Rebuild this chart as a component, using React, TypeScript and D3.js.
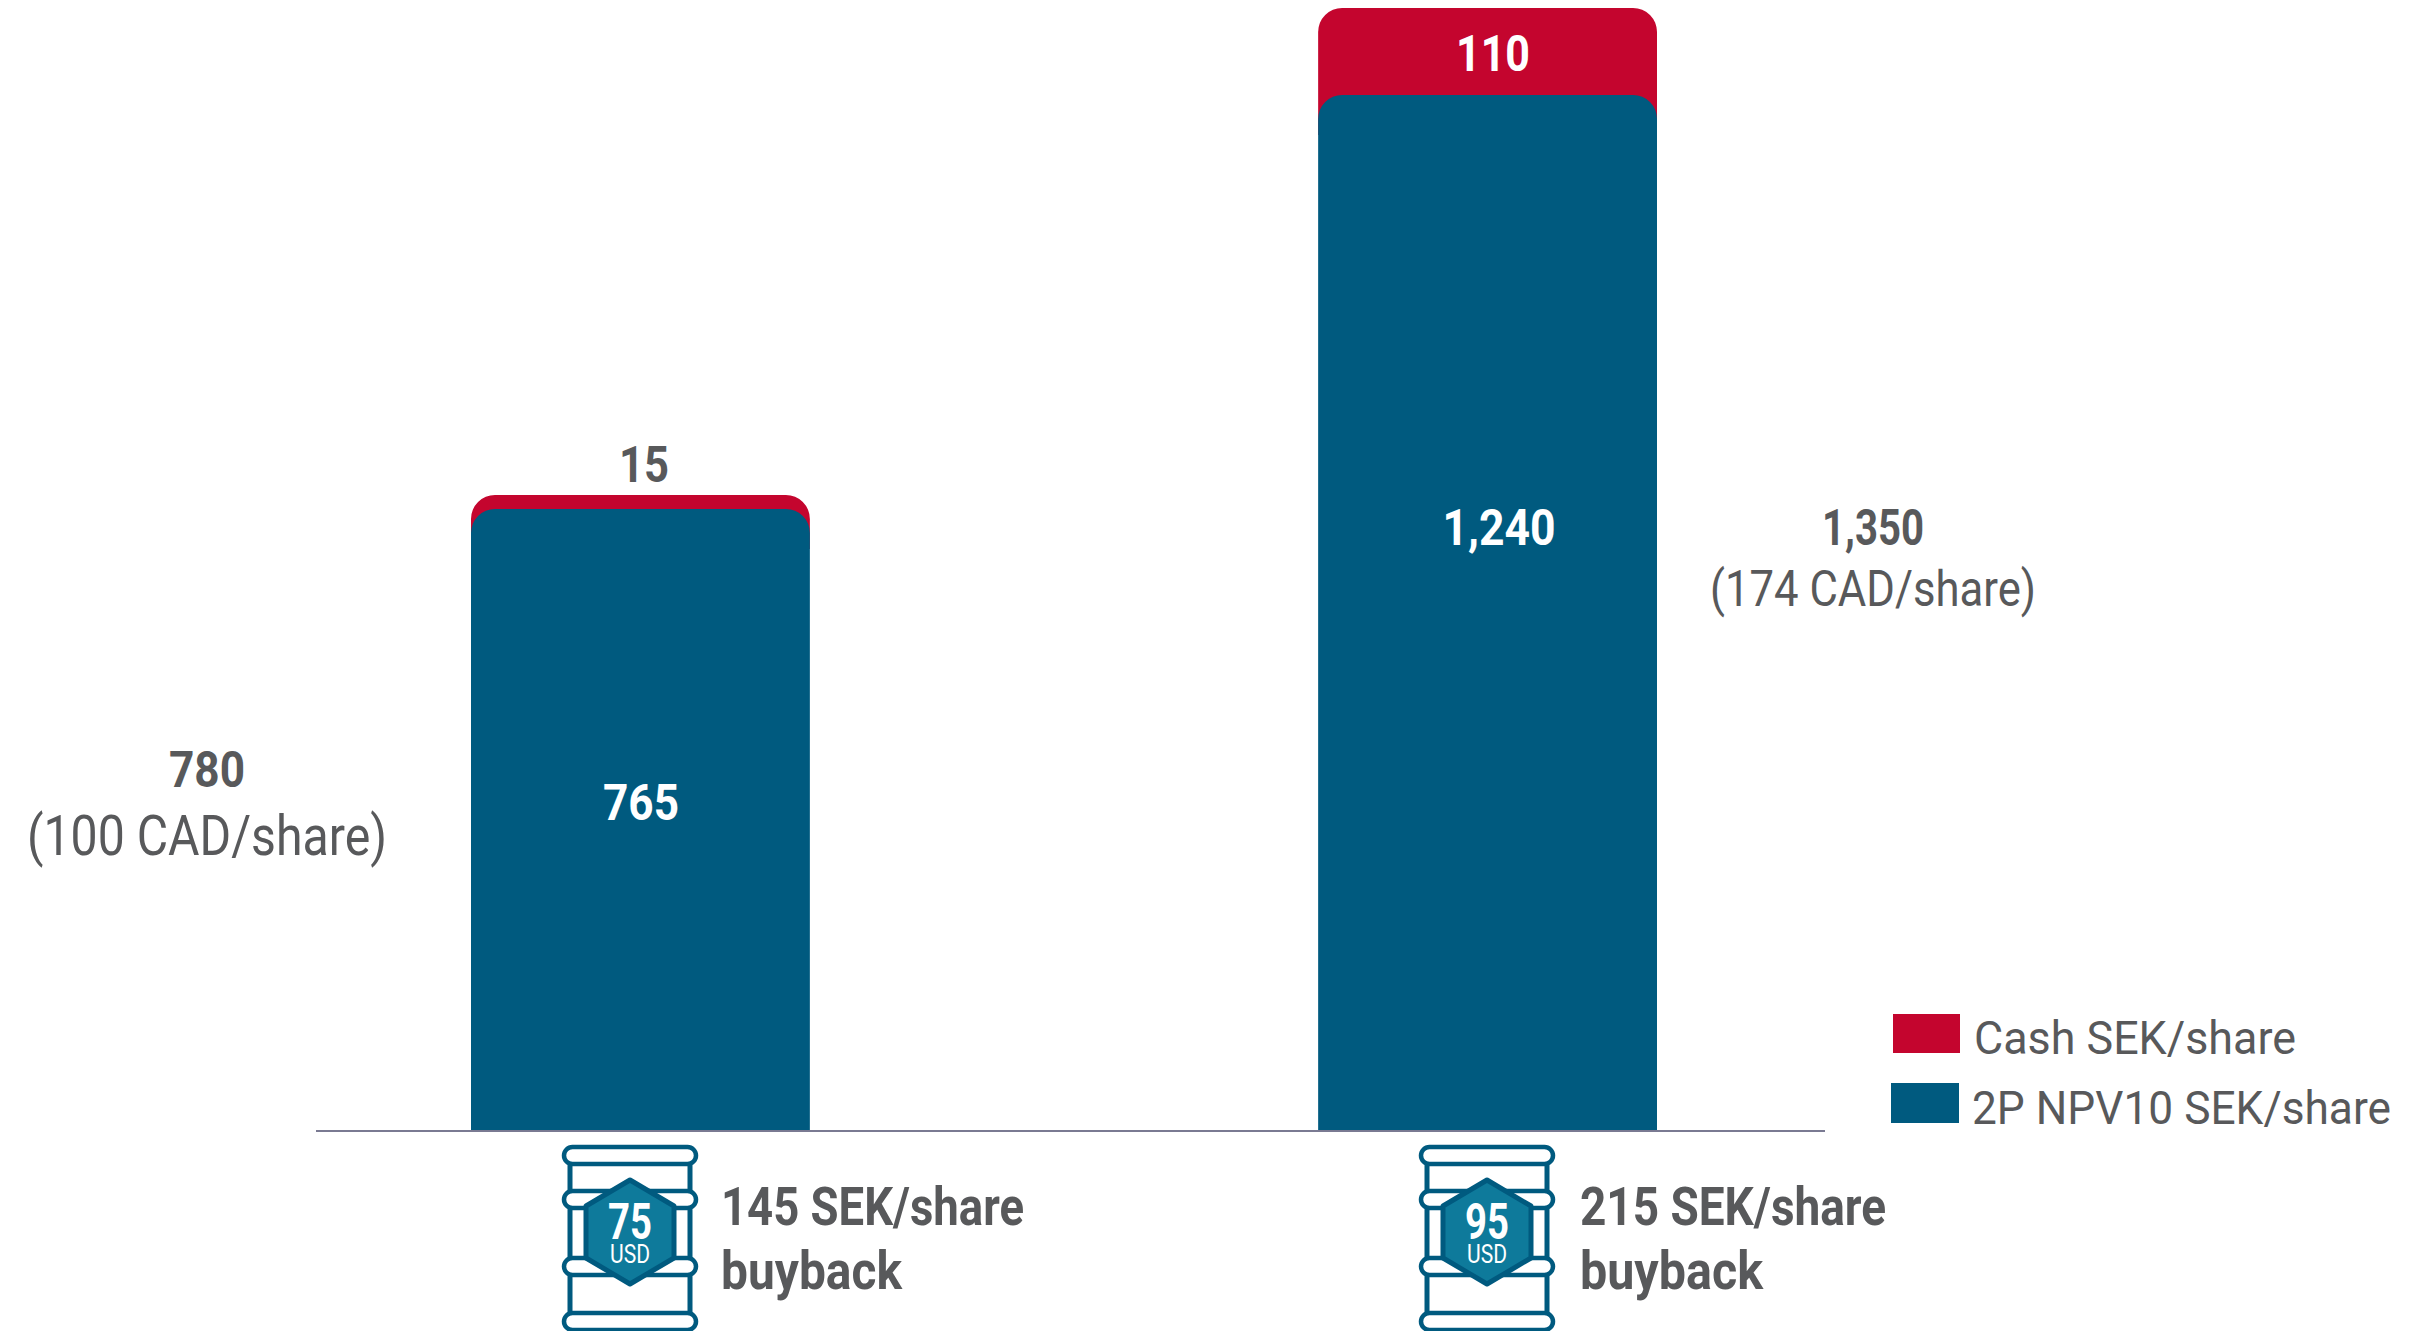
import React from "react";
import * as d3 from "d3";

const categories = ["75", "95"];
const npvValues = [765, 1240];
const cashValues = [15, 110];
const npvLabels = ["765", "1,240"];
const cashLabels = ["15", "110"];
const totalLabels = ["780", "1,350"];
const cadLabels = ["(100 CAD/share)", "(174 CAD/share)"];
const buybackLabels = ["145 SEK/share", "215 SEK/share"];
const seriesNames = ["Cash SEK/share", "2P NPV10 SEK/share"];

const BLUE = "#005a7f";
const RED = "#c4052e";
const TEAL = "#0e7a9b";
const GREY = "#58595b";
const FONT = "Roboto, sans-serif";

// The source chart is not drawn strictly to scale, so the value scale is piecewise.
const y = d3.scaleLinear().domain([0, 765, 780, 1240, 1350]).range([1130, 509, 495, 95, 8]);
const x = d3.scaleBand<string>().domain(categories).range([471, 1657]).paddingInner(0.6).paddingOuter(0);

const roundedTop = (x0: number, y0: number, w: number, bottom: number, r: number) => {
  const p = d3.path();
  p.moveTo(x0, bottom);
  p.lineTo(x0, y0 + r);
  p.arcTo(x0, y0, x0 + r, y0, r);
  p.lineTo(x0 + w - r, y0);
  p.arcTo(x0 + w, y0, x0 + w, y0 + r, r);
  p.lineTo(x0 + w, bottom);
  p.closePath();
  return p.toString();
};

const hexagon = (cx: number, cy: number, hw: number, hh: number) =>
  d3.line()([
    [cx, cy - hh],
    [cx + hw, cy - hh / 2],
    [cx + hw, cy + hh / 2],
    [cx, cy + hh],
    [cx - hw, cy + hh / 2],
    [cx - hw, cy - hh / 2],
  ]) + "Z";

type TProps = { x: number; y: number; w: number; size: number; bold?: boolean; fill?: string; anchor?: string; children: string };
function T({ x: tx, y: ty, w, size, bold, fill = GREY, anchor = "middle", children }: TProps) {
  return (
    <text x={tx} y={ty} textAnchor={anchor as any} fontSize={size} fontWeight={bold ? 700 : 400} fill={fill} fontFamily={FONT} textLength={w} lengthAdjust="spacingAndGlyphs">
      {children}
    </text>
  );
}

function Barrel({ cx, label }: { cx: number; label: string }) {
  const hoops = [1147, 1191, 1258, 1313];
  return (
    <g>
      {[-60, 60].map((d) => (
        <line key={d} x1={cx + d} x2={cx + d} y1={1160} y2={1316} stroke={BLUE} strokeWidth={5} />
      ))}
      {hoops.map((h) => (
        <rect key={h} x={cx - 66} y={h} width={132} height={17} rx={8.5} fill="#fff" stroke={BLUE} strokeWidth={4.5} />
      ))}
      <path d={hexagon(cx, 1232, 44, 52)} fill={TEAL} stroke={BLUE} strokeWidth={5} strokeLinejoin="round" />
      <T x={cx} y={1239} w={44} size={50} bold fill="#fff">{label}</T>
      <T x={cx} y={1263} w={40} size={25} fill="#fff">USD</T>
    </g>
  );
}

export default function App() {
  const bw = x.bandwidth();
  const barrelCx = [630, 1487];
  const buyX = [721, 1580];
  const buyW = [303, 306];
  const buyW2 = [181, 183];
  const cash = [{ x: 644, y: 482, w: 50 }, { x: 1493, y: 71, w: 74 }];
  const npv = [{ x: 641, y: 820, w: 76 }, { x: 1499, y: 545, w: 113 }];
  const total = [
    { x: 207, y1: 787, y2: 855, w1: 76, w2: 360, size: 55 },
    { x: 1873, y1: 545, y2: 606, w1: 102, w2: 326, size: 50 },
  ];
  return (
    <svg width={2415} height={1331} viewBox="0 0 2415 1331" style={{ position: "absolute", left: 0, top: 0, display: "block" }}>
      <rect width={2415} height={1331} fill="#fff" />
      {categories.map((c, i) => {
        const x0 = x(c)!;
        const cashTop = y(npvValues[i] + cashValues[i]);
        const npvTop = y(npvValues[i]);
        return (
          <g key={c}>
            <path d={roundedTop(x0, cashTop, bw, npvTop + 40, 24)} fill={RED} />
            <path d={roundedTop(x0, npvTop, bw, y(0), 24)} fill={BLUE} />
            <T x={cash[i].x} y={cash[i].y} w={cash[i].w} size={50} bold fill={i === 0 ? GREY : "#fff"}>{cashLabels[i]}</T>
            <T x={npv[i].x} y={npv[i].y} w={npv[i].w} size={50} bold fill="#fff">{npvLabels[i]}</T>
            <T x={total[i].x} y={total[i].y1} w={total[i].w1} size={50} bold>{totalLabels[i]}</T>
            <T x={total[i].x} y={total[i].y2} w={total[i].w2} size={total[i].size}>{cadLabels[i]}</T>
            <Barrel cx={barrelCx[i]} label={c} />
            <T x={buyX[i]} y={1225} w={buyW[i]} size={53} bold anchor="start">{buybackLabels[i]}</T>
            <T x={buyX[i]} y={1289} w={buyW2[i]} size={53} bold anchor="start">buyback</T>
          </g>
        );
      })}
      <line x1={316} x2={1825} y1={y(0) + 1} y2={y(0) + 1} stroke="#7a7a92" strokeWidth={2} />
      <rect x={1893} y={1014} width={67} height={39} fill={RED} />
      <rect x={1891} y={1083} width={68} height={40} fill={BLUE} />
      <T x={1974} y={1054} w={322} size={46} anchor="start">{seriesNames[0]}</T>
      <T x={1972} y={1124} w={419} size={46} anchor="start">{seriesNames[1]}</T>
    </svg>
  );
}
